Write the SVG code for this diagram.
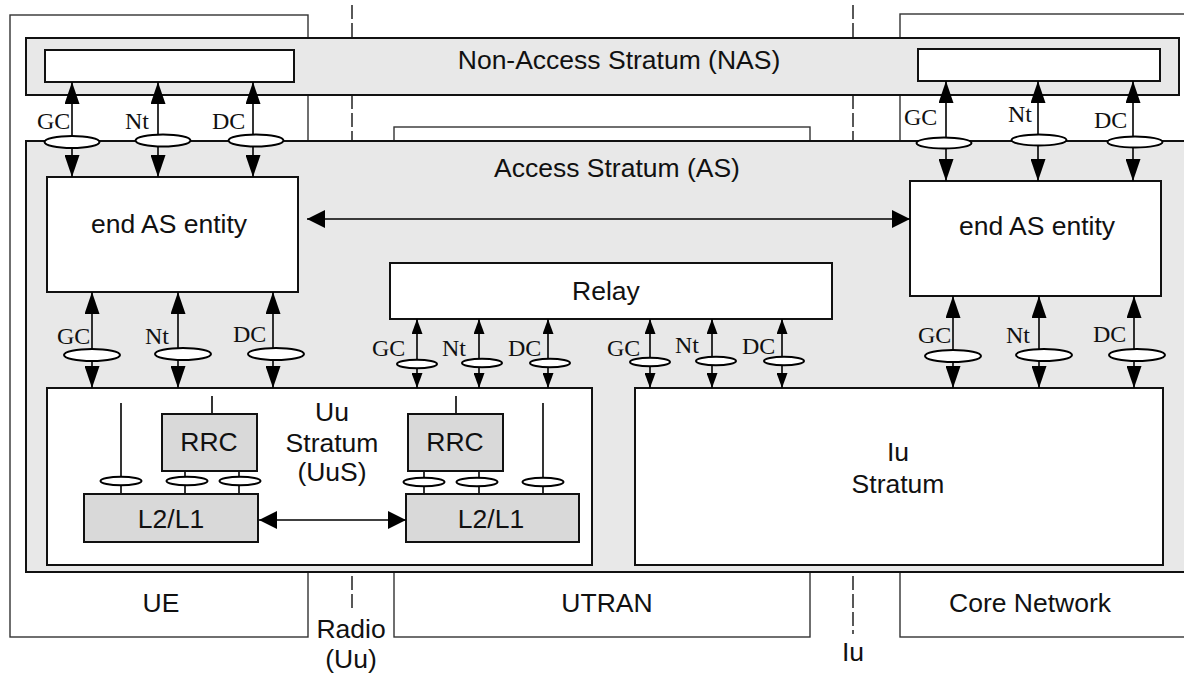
<svg xmlns="http://www.w3.org/2000/svg" width="1184" height="673" viewBox="0 0 1184 673">
<style>
.outer{fill:#fff;stroke:#333;stroke-width:1.4}
.band{fill:#e8e8e8;stroke:#111;stroke-width:2}
.box{fill:#fff;stroke:#111;stroke-width:2}
.gbox{fill:#d9d9d9;stroke:#111;stroke-width:2}
.dash{stroke:#222;stroke-width:1.5;stroke-dasharray:14,4;fill:none}
.ln{stroke:#000;stroke-width:1.6;fill:none}
.el{fill:#fff;stroke:#000;stroke-width:2}
.t{font-family:"Liberation Sans",Arial,sans-serif;font-size:26.5px;fill:#111;text-anchor:middle}
.s{font-family:"Liberation Serif","Times New Roman",serif;font-size:24px;fill:#111}
.big{marker-start:url(#ab);marker-end:url(#ab)}
.sm{marker-start:url(#as);marker-end:url(#as)}
.hz{marker-start:url(#ah);marker-end:url(#ah)}
</style>
<defs>
<marker id="ab" viewBox="0 0 10 10" refX="10" refY="5" markerWidth="22" markerHeight="15" orient="auto-start-reverse" markerUnits="userSpaceOnUse" preserveAspectRatio="none"><path d="M0,0 L10,5 L0,10 Z" fill="#000"/></marker>
<marker id="as" viewBox="0 0 10 10" refX="10" refY="5" markerWidth="15" markerHeight="11" orient="auto-start-reverse" markerUnits="userSpaceOnUse" preserveAspectRatio="none"><path d="M0,0 L10,5 L0,10 Z" fill="#000"/></marker>
<marker id="ah" viewBox="0 0 10 10" refX="10" refY="5" markerWidth="18" markerHeight="18" orient="auto-start-reverse" markerUnits="userSpaceOnUse" preserveAspectRatio="none"><path d="M0,0 L10,5 L0,10 Z" fill="#000"/></marker>
</defs>
<rect width="1184" height="673" fill="#fff"/>

<g id="ue"><rect class="outer" x="10" y="15" width="298" height="622"/><text class="t" x="161" y="612">UE</text></g>
<g id="utran"><rect class="outer" x="394" y="127" width="416" height="510"/><text class="t" x="607" y="612">UTRAN</text></g>
<g id="cn"><rect class="outer" x="900" y="14" width="300" height="623"/><text class="t" x="1030" y="612">Core Network</text></g>

<g id="interfaces">
<line class="dash" x1="352" y1="5" x2="352" y2="140"/>
<line class="dash" x1="853" y1="5" x2="853" y2="140"/>
<line class="dash" x1="352" y1="576" x2="352" y2="612"/>
<line class="dash" x1="853" y1="576" x2="853" y2="634"/>
<text class="t" x="351" y="638">Radio</text>
<text class="t" x="351" y="668">(Uu)</text>
<text class="t" x="853" y="661">Iu</text>
</g>

<g id="nas">
<rect class="band" x="26" y="38" width="1153" height="57"/>
<text class="t" x="619" y="69">Non-Access Stratum (NAS)</text>
<rect class="box" x="45" y="50" width="249" height="32"/>
<rect class="box" x="918" y="49" width="242" height="32"/>
</g>

<g id="as">
<rect class="band" x="26" y="141" width="1170" height="431"/>
<text class="t" x="617" y="177">Access Stratum (AS)</text>
</g>

<g id="endAS-ue"><rect class="box" x="47" y="177" width="251" height="115"/><text class="t" x="169" y="233">end AS entity</text></g>
<g id="endAS-cn"><rect class="box" x="910" y="181" width="251" height="115"/><text class="t" x="1037" y="235">end AS entity</text></g>
<g id="relay"><rect class="box" x="390" y="263" width="442" height="56"/><text class="t" x="606" y="300">Relay</text></g>

<g id="uus">
<rect class="box" x="47" y="388" width="545" height="177"/>
<text class="t" x="332" y="421">Uu</text>
<text class="t" x="332" y="452">Stratum</text>
<text class="t" x="332" y="481">(UuS)</text>
<line class="ln" x1="121" y1="403" x2="121" y2="494"/>
<line class="ln" x1="212" y1="396" x2="212" y2="414"/>
<line class="ln" x1="185" y1="471" x2="185" y2="494"/>
<line class="ln" x1="239" y1="471" x2="239" y2="494"/>
<line class="ln" x1="456" y1="396" x2="456" y2="414"/>
<line class="ln" x1="424" y1="471" x2="424" y2="494"/>
<line class="ln" x1="479" y1="471" x2="479" y2="494"/>
<line class="ln" x1="543" y1="403" x2="543" y2="494"/>
<ellipse class="el" cx="121" cy="481" rx="20.5" ry="4.3"/>
<ellipse class="el" cx="187" cy="481" rx="20.5" ry="4.3"/>
<ellipse class="el" cx="240" cy="481" rx="20.5" ry="4.3"/>
<ellipse class="el" cx="424" cy="482" rx="20.5" ry="4.3"/>
<ellipse class="el" cx="477" cy="482" rx="20.5" ry="4.3"/>
<ellipse class="el" cx="543" cy="482" rx="20.5" ry="4.3"/>
</g>
<g id="rrc-ue"><rect class="gbox" x="162" y="414" width="95" height="57"/><text class="t" x="209" y="451">RRC</text></g>
<g id="rrc-utran"><rect class="gbox" x="408" y="414" width="95" height="57"/><text class="t" x="455" y="451">RRC</text></g>
<g id="l2l1-ue"><rect class="gbox" x="84" y="494" width="174" height="48"/><text class="t" x="171" y="528">L2/L1</text></g>
<g id="l2l1-utran"><rect class="gbox" x="406" y="494" width="173" height="48"/><text class="t" x="491" y="528">L2/L1</text></g>
<g id="iu-stratum"><rect class="box" x="635" y="388" width="528" height="177"/><text class="t" x="898" y="461">Iu</text><text class="t" x="898" y="493">Stratum</text></g>

<g id="connectors">
<line class="ln big" x1="72" y1="82" x2="72" y2="177"/>
<line class="ln big" x1="158" y1="82" x2="158" y2="177"/>
<line class="ln big" x1="253" y1="82" x2="253" y2="177"/>
<line class="ln big" x1="946" y1="81" x2="946" y2="181"/>
<line class="ln big" x1="1038" y1="81" x2="1038" y2="181"/>
<line class="ln big" x1="1133" y1="81" x2="1133" y2="181"/>
<line class="ln big" x1="92" y1="292" x2="92" y2="388"/>
<line class="ln big" x1="178" y1="292" x2="178" y2="388"/>
<line class="ln big" x1="273" y1="292" x2="273" y2="388"/>
<line class="ln big" x1="953" y1="296" x2="953" y2="388"/>
<line class="ln big" x1="1039" y1="296" x2="1039" y2="388"/>
<line class="ln big" x1="1134" y1="296" x2="1134" y2="388"/>
<line class="ln sm" x1="417" y1="319" x2="417" y2="388"/>
<line class="ln sm" x1="479" y1="319" x2="479" y2="388"/>
<line class="ln sm" x1="548" y1="319" x2="548" y2="388"/>
<line class="ln sm" x1="650" y1="319" x2="650" y2="388"/>
<line class="ln sm" x1="712" y1="319" x2="712" y2="388"/>
<line class="ln sm" x1="782" y1="319" x2="782" y2="388"/>
<line class="ln hz" x1="307" y1="219" x2="910" y2="219"/>
<line class="ln hz" x1="259" y1="520" x2="406" y2="520"/>

<ellipse class="el" cx="72" cy="142" rx="27.5" ry="6"/>
<ellipse class="el" cx="163" cy="140.5" rx="27.5" ry="6"/>
<ellipse class="el" cx="256" cy="140.5" rx="27.5" ry="6"/>
<ellipse class="el" cx="944" cy="143" rx="27.5" ry="5.5"/>
<ellipse class="el" cx="1039" cy="140" rx="27.5" ry="5.5"/>
<ellipse class="el" cx="1135" cy="142" rx="27.5" ry="5.5"/>
<ellipse class="el" cx="92" cy="355" rx="28" ry="6"/>
<ellipse class="el" cx="183" cy="354" rx="28" ry="6"/>
<ellipse class="el" cx="276" cy="354" rx="28" ry="6"/>
<ellipse class="el" cx="953" cy="356" rx="28" ry="6"/>
<ellipse class="el" cx="1044" cy="355" rx="28" ry="6"/>
<ellipse class="el" cx="1137" cy="355" rx="28" ry="6"/>
<ellipse class="el" cx="417" cy="364" rx="20" ry="4.3"/>
<ellipse class="el" cx="482" cy="363" rx="20" ry="4.3"/>
<ellipse class="el" cx="550" cy="363" rx="20" ry="4.3"/>
<ellipse class="el" cx="650" cy="362" rx="20" ry="4.3"/>
<ellipse class="el" cx="716" cy="361" rx="20" ry="4.3"/>
<ellipse class="el" cx="784" cy="361" rx="20" ry="4.3"/>

<text class="s" x="37" y="129">GC</text>
<text class="s" x="125" y="129">Nt</text>
<text class="s" x="212" y="129">DC</text>
<text class="s" x="904" y="125">GC</text>
<text class="s" x="1008" y="122">Nt</text>
<text class="s" x="1094" y="128">DC</text>
<text class="s" x="57" y="344">GC</text>
<text class="s" x="145" y="344">Nt</text>
<text class="s" x="233" y="342">DC</text>
<text class="s" x="918" y="343">GC</text>
<text class="s" x="1006" y="343">Nt</text>
<text class="s" x="1093" y="342">DC</text>
<text class="s" x="372" y="356">GC</text>
<text class="s" x="442" y="356">Nt</text>
<text class="s" x="508" y="356">DC</text>
<text class="s" x="607" y="356">GC</text>
<text class="s" x="675" y="353">Nt</text>
<text class="s" x="742" y="354">DC</text>
</g>
</svg>
